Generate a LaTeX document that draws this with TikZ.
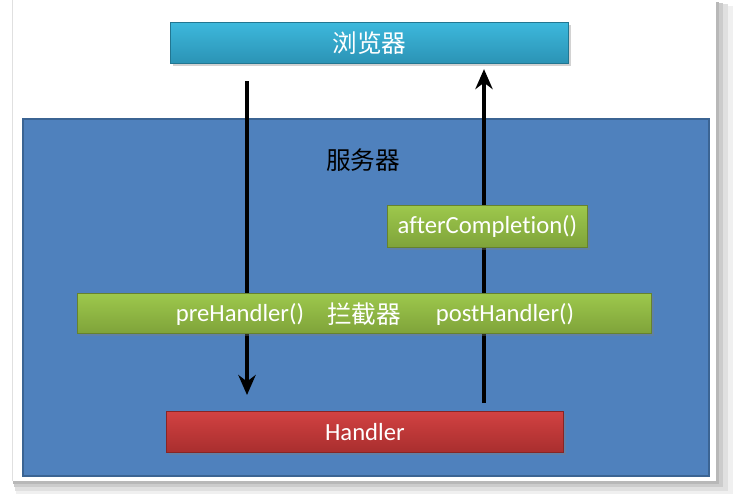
\documentclass[tikz,border=0pt]{standalone}
\usepackage{fontspec}
\setmainfont{Carlito}[Ligatures=NoCommon]
\newfontfamily\cjk{Noto Sans CJK SC}
\usetikzlibrary{arrows.meta,shadows,calc}
\definecolor{srvfill}{HTML}{4F81BD}
\definecolor{srvline}{HTML}{3B6493}
\definecolor{cyanT}{HTML}{3DB8DC}
\definecolor{cyanB}{HTML}{2B93B5}
\definecolor{greenT}{HTML}{9DC84C}
\definecolor{greenB}{HTML}{7FA33A}
\definecolor{redT}{HTML}{D24242}
\definecolor{redB}{HTML}{A92E2E}
\tikzset{
  px/.style={x=0.75pt,y=-0.75pt},
  txt/.style={font=\fontsize{18.5}{20}\selectfont},
  bar/.style={draw=#1!80!black, line width=0.6pt, drop shadow={shadow xshift=2pt,shadow yshift=-2pt,opacity=0.35}},
  arr/.style={line width=3.2pt, -{Stealth[length=15pt,width=13pt]}},
}
\begin{document}
\begin{tikzpicture}[px]
\useasboundingbox (0,0) rectangle (733,494);
% frame shadow
\fill[black!6] (16,6) rectangle (733,494);
\fill[black!12] (15,4) rectangle (728,491);
\fill[black!20] (14,3) rectangle (723,487);
\fill[black!28] (13,2) rectangle (719,484);
\fill[white] (12,0) rectangle (716,481);
\draw[black!12, line width=0.5pt] (12,0) -- (12,481);
% server
\node[draw=srvline, line width=1.5pt, fill=srvfill, minimum width=686*0.75pt, minimum height=357*0.75pt, anchor=north west, inner sep=0pt] (server) at (21.5,117.5) {};
\node[txt, text=black] (srvlabel) at (363,160) {\cjk 服务器};
% browser
\node[bar=cyanB, top color=cyanT, bottom color=cyanB, minimum width=398*0.75pt, minimum height=41*0.75pt, anchor=north west, inner sep=0pt, txt, text=white] (browser) at (170,22) {\cjk 浏览器};
% handler
\node[bar=redB, top color=redT, bottom color=redB, minimum width=397*0.75pt, minimum height=41*0.75pt, anchor=north west, inner sep=0pt, txt, text=white] (handler) at (166,411) {Handler};
% arrows (behind the green bars)
\coordinate (dnx) at (247,0);
\coordinate (upx) at (484,0);
\draw[arr, shorten <=13pt, shorten >=12pt] (browser.south -| dnx) -- (handler.north -| dnx);
\draw[arr, shorten <=6pt, shorten >=4pt] (handler.north -| upx) -- (browser.south -| upx);
% afterCompletion
\node[bar=greenB, top color=greenT, bottom color=greenB, minimum width=200*0.75pt, minimum height=42*0.75pt, anchor=north west, inner sep=0pt, txt, text=white] (after) at (387,205) {afterCompletion()};
% interceptor
\node[bar=greenB, top color=greenT, bottom color=greenB, minimum width=574*0.75pt, minimum height=40*0.75pt, anchor=north west, inner sep=0pt] (inter) at (77,293) {};
\node[txt, text=white] (pre) at (240,314) {preHandler()};
\node[txt, text=white] (ljq) at (364,314) {\cjk 拦截器};
\node[txt, text=white] (post) at (505,314) {postHandler()};
\end{tikzpicture}
\end{document}
